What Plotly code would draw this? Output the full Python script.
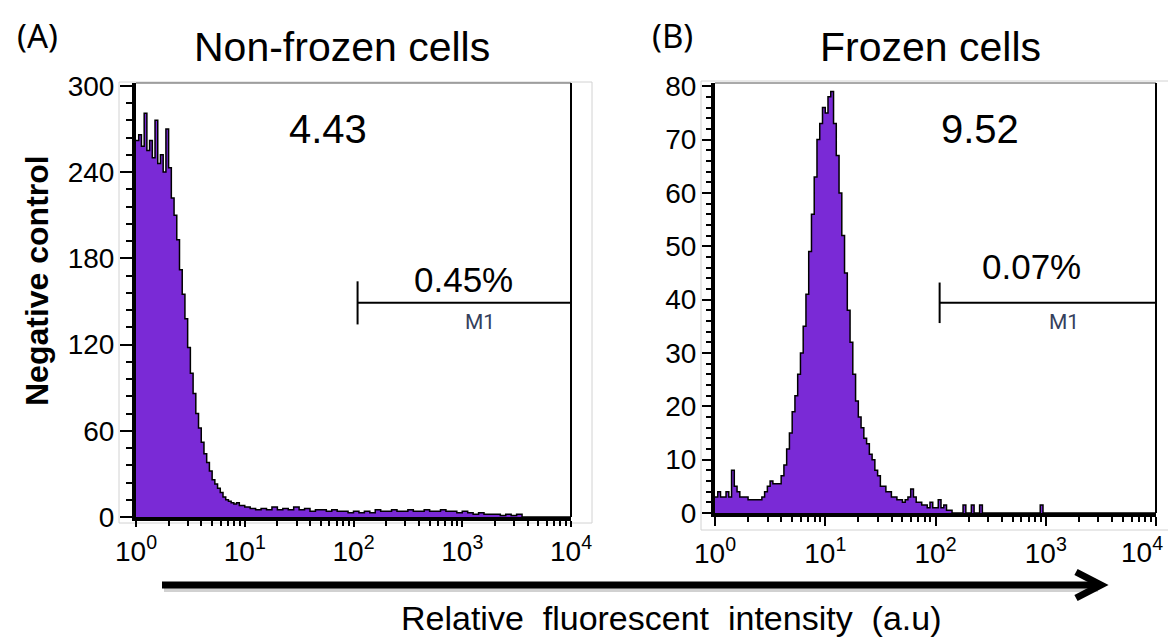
import plotly.graph_objects as go

W, H = 1168, 638

# ---------------- data ----------------
# Panel A: non-frozen cells (channel left edges, counts)
xA = [1.000, 1.059, 1.122, 1.189, 1.259, 1.334, 1.413, 1.496, 1.585, 1.679,
      1.778, 1.884, 1.995, 2.113, 2.239, 2.371, 2.512, 2.661, 2.818, 2.985,
      3.162, 3.350, 3.548, 3.758, 3.981, 4.217, 4.467, 4.732, 5.012, 5.309,
      5.623, 5.957, 6.310, 6.683, 7.079, 7.499, 7.943, 8.414, 8.913, 9.441,
      10.00, 11.22, 12.59, 14.13, 15.85, 17.78, 19.95, 22.39, 25.12, 28.18,
      31.62, 35.48, 39.81, 44.67, 50.12, 56.23, 63.10, 70.79, 79.43, 89.13,
      100.0, 112.2, 125.9, 141.3, 158.5, 177.8, 199.5, 223.9, 251.2, 281.8,
      316.2, 354.8, 398.1, 446.7, 501.2, 562.3, 631.0, 707.9, 794.3, 891.3,
      1000, 1122, 1259, 1413, 1585, 1778, 1995, 2239, 2512, 2818,
      3162, 3548, 10000]
yA = [262, 266, 258, 281, 255, 262, 250, 276, 246, 252,
      240, 270, 243, 222, 210, 193, 172, 155, 138, 118,
      100, 86, 72, 62, 52, 44, 38, 32, 26, 23,
      20, 17, 14, 12, 11, 10, 9, 10, 8, 8,
      7, 6, 5, 6, 5, 7, 5, 6, 5, 7,
      5, 6, 4, 5, 5, 4, 5, 4, 4, 3,
      4, 3, 4, 3, 5, 4, 4, 5, 4, 4,
      5, 4, 4, 5, 4, 4, 5, 4, 4, 3,
      4, 3, 2, 3, 2, 2, 2, 1, 2, 1,
      2, 0, 0]

# Panel B: frozen cells
xB = [1.000, 1.059, 1.122, 1.189, 1.259, 1.334, 1.413, 1.496, 1.585, 1.679,
      1.778, 1.884, 1.995, 2.113, 2.239, 2.371, 2.512, 2.661, 2.818, 2.985,
      3.162, 3.350, 3.548, 3.758, 3.981, 4.217, 4.467, 4.732, 5.012, 5.309,
      5.623, 5.957, 6.310, 6.683, 7.079, 7.499, 7.943, 8.414, 8.913, 9.441,
      10.00, 10.59, 11.22, 11.89, 12.59, 13.34, 14.13, 14.96, 15.85, 16.79,
      17.78, 18.84, 19.95, 21.13, 22.39, 23.71, 25.12, 26.61, 28.18, 29.85,
      31.62, 33.50, 35.48, 37.58, 39.81, 42.17, 44.67, 47.32, 50.12, 53.09,
      56.23, 59.57, 63.10, 66.83, 70.79, 74.99, 79.43, 84.14, 89.13, 94.41,
      100.0, 105.9, 112.2, 118.9, 125.9, 133.4, 141.3, 177.8, 188.4, 211.3,
      223.9, 251.2, 266.1, 891.3, 944.1, 10000]
yB = [3, 4, 3, 3, 4, 3, 8, 5, 4, 3,
      3, 3, 2.5, 2.5, 2.5, 2.5, 2.5, 3, 4, 5,
      6, 5.5, 5.5, 5.5, 7, 9, 12, 15, 19, 22,
      26, 30, 35, 41, 49, 56, 63, 70, 73, 76,
      75, 78, 79, 73, 67, 60, 52, 45, 38, 32,
      26, 21, 18, 16, 14, 13, 11, 10, 8, 7,
      5, 5, 4, 4, 3, 3, 2.5, 2.5, 2, 2.5,
      3, 4.5, 3, 2, 2, 1.5, 1.5, 1, 2, 1,
      1, 2.5, 1, 1.5, 0.5, 0.5, 0, 1.5, 0, 1.5,
      0, 1.5, 0, 1.5, 0, 0]

decade_vals = [1, 10, 100, 1000, 10000]
decade_text = ["10<sup>0</sup>", "10<sup>1</sup>", "10<sup>2</sup>",
               "10<sup>3</sup>", "10<sup>4</sup>"]
yA_ticks = [0, 60, 120, 180, 240, 300]
yB_ticks = [0, 10, 20, 30, 40, 50, 60, 70, 80]

gate_x = [109, 10000]           # M1 gate
gate_level_A = 149
gate_level_B = 39.4
mean_A, mean_B = "4.43", "9.52"
pct_A, pct_B = "0.45%", "0.07%"
titles = ["Non-frozen cells", "Frozen cells"]
panel_labels = ["(A)", "(B)"]
y_title = "Negative control"
x_title_words = ["Relative", "fluorescent", "intensity", "(a.u)"]

# ---------------- styles ----------------
PURPLE = "#7a2ad6"
FONT = "Liberation Sans"

def px(x):
    return x / W

def py(y):
    return 1 - y / H

minor_vals = [d * k for d in decade_vals[:-1] for k in range(2, 10)]

fig = go.Figure()

hist_style = dict(mode="lines", line=dict(shape="hv", color="black", width=1.5),
                  fill="tozeroy", fillcolor=PURPLE, showlegend=False, hoverinfo="skip")
fig.add_trace(go.Scatter(x=xA, y=yA, xaxis="x", yaxis="y", **hist_style))
fig.add_trace(go.Scatter(x=xB, y=yB, xaxis="x2", yaxis="y2", **hist_style))

gate_line = dict(mode="lines", line=dict(color="black", width=2),
                 showlegend=False, hoverinfo="skip")
for xa, ya, lvl, half in [("x", "y", gate_level_A, 15), ("x2", "y2", gate_level_B, 3.8)]:
    fig.add_trace(go.Scatter(x=gate_x, y=[lvl, lvl], xaxis=xa, yaxis=ya, **gate_line))
    fig.add_trace(go.Scatter(x=[gate_x[0], gate_x[0]], y=[lvl - half, lvl + half],
                             xaxis=xa, yaxis=ya, **gate_line))

xaxis_common = dict(type="log", range=[0, 4], tickvals=decade_vals,
                    ticks="outside", tickwidth=2, tickcolor="black",
                    showline=True, linecolor="black", linewidth=4,
                    showgrid=False, zeroline=False, automargin=False,
                    minor=dict(tickvals=minor_vals, ticks="outside", ticklen=5,
                               tickwidth=2, tickcolor="black"),
                    tickfont=dict(family=FONT, size=28, color="black"))
yaxis_common = dict(ticks="outside", tickwidth=2, tickcolor="black",
                    showline=True, linecolor="black", linewidth=4,
                    showgrid=False, zeroline=False, automargin=False,
                    tickfont=dict(family=FONT, size=28, color="black"))

fig.update_layout(
    width=W, height=H,
    margin=dict(l=0, r=0, t=0, b=0, pad=0, autoexpand=False),
    paper_bgcolor="white", plot_bgcolor="white", showlegend=False,
    xaxis=dict(domain=[px(136), px(571)], anchor="y", ticktext=decade_text,
               ticklen=6, **xaxis_common),
    yaxis=dict(domain=[py(517), py(83)], anchor="x", range=[0, 302],
               tickvals=yA_ticks, ticklen=12,
               minor=dict(dtick=12, ticks="outside", ticklen=6, tickwidth=2, tickcolor="black"),
               **yaxis_common),
    xaxis2=dict(domain=[px(715), px(1156)], anchor="y2",
                ticktext=decade_text[:-1] + [""], ticklen=9, ticklabelstandoff=3,
                **xaxis_common),
    yaxis2=dict(domain=[py(513), py(83)], anchor="x2", range=[0, 80.6],
                tickvals=yB_ticks, ticklen=9,
                minor=dict(dtick=2, ticks="outside", ticklen=5, tickwidth=2, tickcolor="black"),
                **yaxis_common),
)

shapes = []
# light gray outer frames
shapes.append(dict(type="rect", xref="paper", yref="paper", x0=px(119), x1=px(592),
                   y0=py(523), y1=py(82), line=dict(color="#d2d2d2", width=1), layer="below"))
shapes.append(dict(type="rect", xref="paper", yref="paper", x0=px(701), x1=px(1175),
                   y0=py(530), y1=py(81), line=dict(color="#d2d2d2", width=1), layer="below"))
# plot box top/right
for xl, xr, yb in [(136, 571, 517), (715, 1156, 513)]:
    shapes.append(dict(type="line", xref="paper", yref="paper", x0=px(xl), x1=px(xr),
                       y0=py(83), y1=py(83), line=dict(color="#555555", width=1)))
    shapes.append(dict(type="line", xref="paper", yref="paper", x0=px(xr), x1=px(xr),
                       y0=py(83), y1=py(yb), line=dict(color="black", width=2)))
# bottom arrow (shadow + line + head)
shapes.append(dict(type="line", xref="paper", yref="paper", x0=px(164), x1=px(1098),
                   y0=py(589), y1=py(589), line=dict(color="rgba(0,0,0,0.18)", width=6)))
shapes.append(dict(type="line", xref="paper", yref="paper", x0=px(162), x1=px(1097),
                   y0=py(585), y1=py(585), line=dict(color="black", width=7)))
shapes.append(dict(type="path", xref="paper", yref="paper",
                   path=f"M {px(1076)},{py(572)} L {px(1101)},{py(585)} L {px(1076)},{py(598)}",
                   line=dict(color="black", width=7)))
fig.update_layout(shapes=shapes)

ann = []
def text(x, y, s, size, family=FONT, color="black", angle=0):
    ann.append(dict(x=px(x), y=py(y), xref="paper", yref="paper", text=s, showarrow=False,
                    xanchor="center", yanchor="middle", textangle=angle,
                    font=dict(family=family, size=size, color=color)))

text(342, 47, titles[0], 41)
text(930, 47, titles[1], 41)
text(37, 35, panel_labels[0], 33, family="Noto Sans")
text(672, 35, panel_labels[1], 33, family="Noto Sans")
text(328, 129, mean_A, 40)
text(980, 129, mean_B, 40)
text(463, 279, pct_A, 35)
text(1031, 266, pct_B, 35)
text(480, 322, "M1", 21, family="Roboto", color="#34405c")
text(1064, 322, "M1", 21, family="Roboto", color="#34405c")
text(37, 281, f"<b>{y_title}</b>", 32, angle=-90)
text(671, 618, "&nbsp;&nbsp;".join(x_title_words), 34)
text(1142, 550, decade_text[-1], 28)
fig.update_layout(annotations=ann)

fig.write_html("out.html")
